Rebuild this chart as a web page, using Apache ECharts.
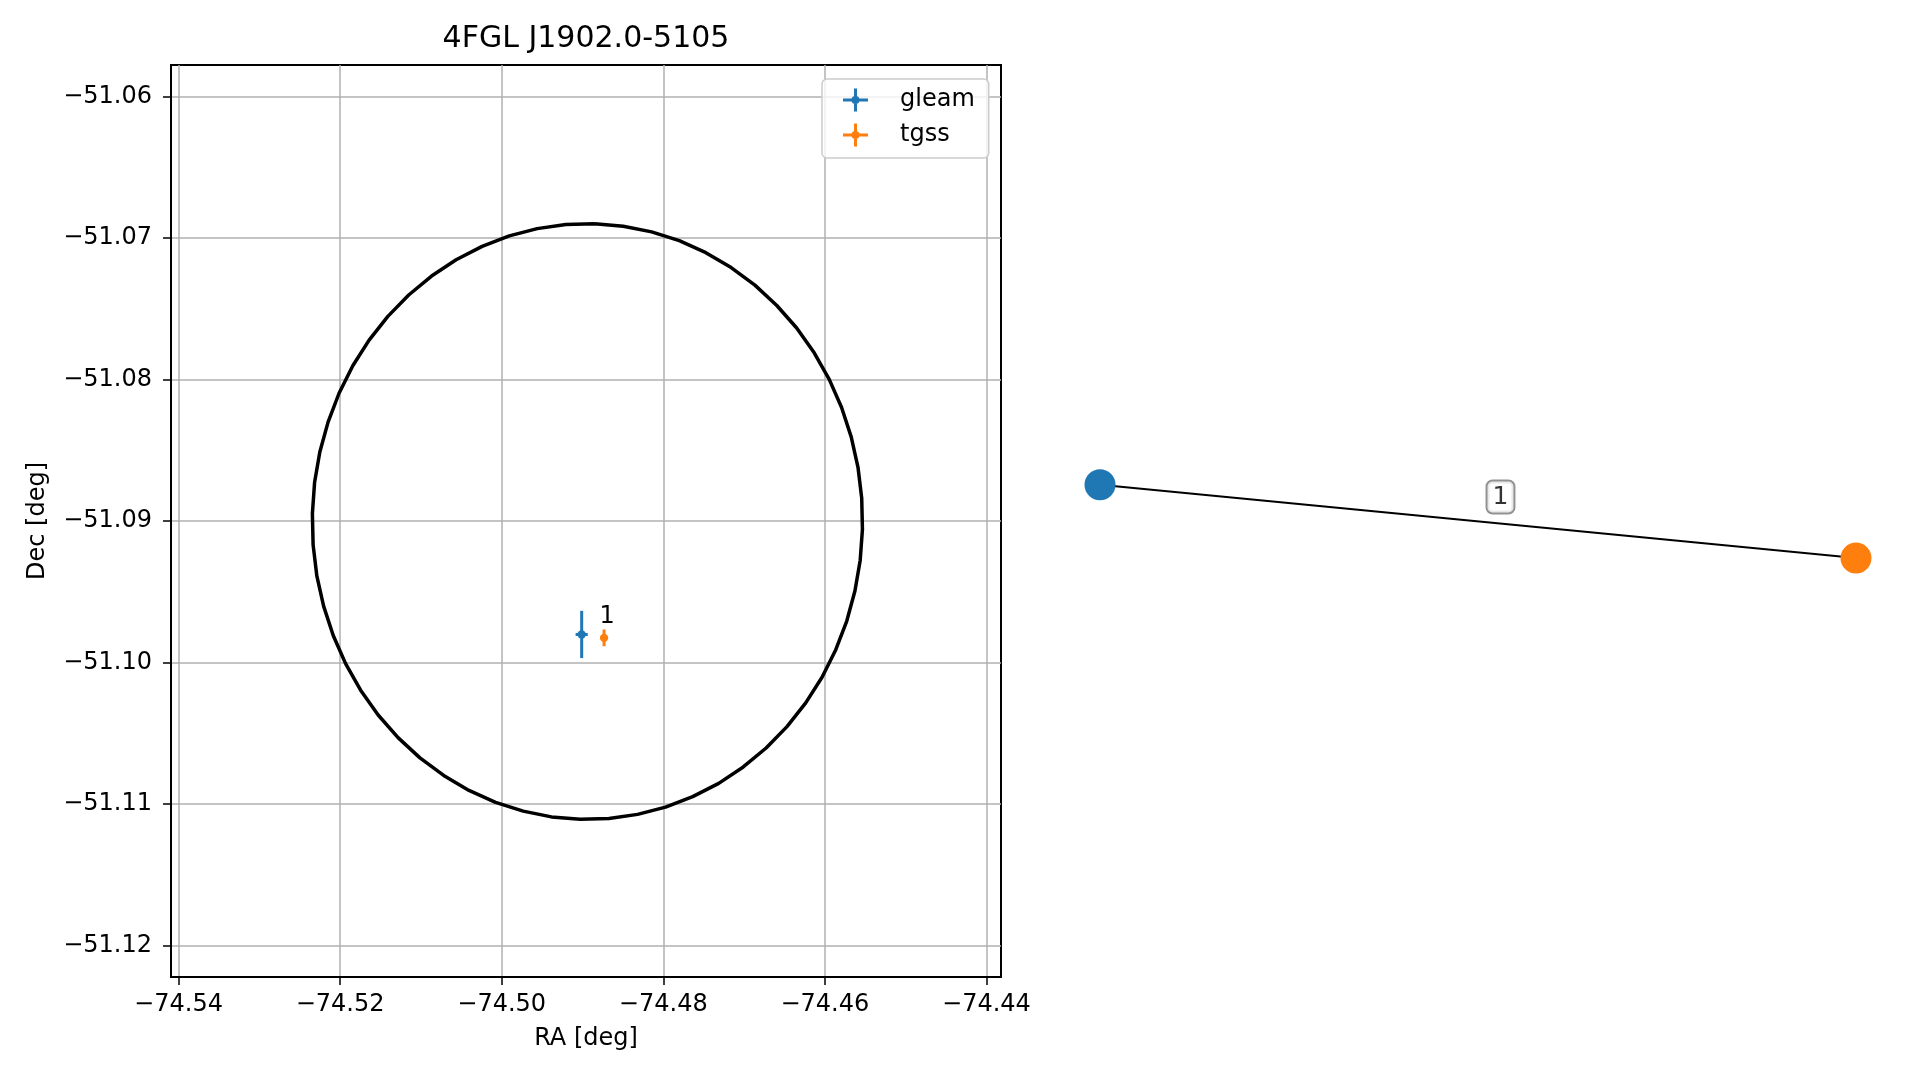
<!DOCTYPE html>
<html>
<head>
<meta charset="utf-8">
<script src="https://cdn.jsdelivr.net/npm/echarts@6/dist/echarts.min.js"></script>
<style>html,body{margin:0;padding:0;background:#fff}#c{width:1919px;height:1080px}</style>
</head>
<body>
<div id="c"></div>
<script>
// ---- data ----
const titleText = '4FGL J1902.0-5105';
const raTicks = [-74.54, -74.52, -74.50, -74.48, -74.46, -74.44];
const decTicks = [-51.12, -51.11, -51.10, -51.09, -51.08, -51.07, -51.06];
const raRange = [-74.54093, -74.43820];
const decRange = [-51.12222, -51.05779];

const sourceNames = ['gleam', 'tgss'];
const sourceColors = ['#1f77b4', '#ff7f0e'];
const sourceRA = [-74.4901, -74.48733];
const sourceDec = [-51.09802, -51.09826];
const sourceRAErr = [0.00075, 0.0003];
const sourceDecErr = [0.00167, 0.00059];
const sourceLabel = ['', '1'];

// 4FGL error circle vertices (RA, Dec)
const circleRA = [
  -74.48850, -74.48495, -74.48144, -74.47802, -74.47473, -74.47160, -74.46866, -74.46595,
  -74.46349, -74.46132, -74.45946, -74.45793, -74.45674, -74.45590, -74.45544,
  -74.45535, -74.45563, -74.45628, -74.45729, -74.45865, -74.46035, -74.46237, -74.46469,
  -74.46727, -74.47010, -74.47314, -74.47636, -74.47972, -74.48318, -74.48672,
  -74.49028, -74.49384, -74.49734, -74.50076, -74.50405, -74.50718, -74.51012, -74.51283,
  -74.51529, -74.51746, -74.51932, -74.52085, -74.52204, -74.52288, -74.52334,
  -74.52343, -74.52316, -74.52251, -74.52149, -74.52013, -74.51843, -74.51641, -74.51409,
  -74.51151, -74.50868, -74.50564, -74.50242, -74.49906, -74.49560, -74.49206
];
const circleDec = [
  -51.06900, -51.06918, -51.06958, -51.07020, -51.07105, -51.07210, -51.07334, -51.07478,
  -51.07637, -51.07812, -51.08000, -51.08199, -51.08406, -51.08621, -51.08839,
  -51.09059, -51.09279, -51.09495, -51.09707, -51.09910, -51.10104, -51.10285, -51.10453,
  -51.10604, -51.10738, -51.10854, -51.10948, -51.11022, -51.11073, -51.11102,
  -51.11108, -51.11091, -51.11050, -51.10988, -51.10904, -51.10798, -51.10674, -51.10531,
  -51.10371, -51.10196, -51.10008, -51.09809, -51.09602, -51.09388, -51.09169,
  -51.08949, -51.08729, -51.08513, -51.08302, -51.08098, -51.07904, -51.07723, -51.07555,
  -51.07404, -51.07270, -51.07155, -51.07060, -51.06986, -51.06935, -51.06906
];

// match graph (right panel)
const nodeNames = ['gleam', 'tgss'];
const nodeX = [-1, 1];
const nodeY = [0.0796, -0.0814];
const edgeLabels = ['1'];
const edgeLabelX = [0.0595];
const edgeLabelY = [0.0526];

// ---- chart ----
const FONT = 'DejaVu Sans';
const fmtMinus = v => (v < 0 ? '\u2212' : '') + Math.abs(v).toFixed(2);
const crossIcon = 'path://M0,10H11V0H14V10H25V13H14V23H11V13H0Z M12.5,7.5A4,4 0 1 1 12.49,7.5Z';

const circleData = circleRA.map((r, i) => [r, circleDec[i]]);
circleData.push([circleRA[0], circleDec[0]]);

const sourceSeries = sourceNames.map((name, i) => ({
  name: name,
  type: 'custom',
  xAxisIndex: 0, yAxisIndex: 0,
  itemStyle: { color: sourceColors[i], opacity: 1 },
  color: sourceColors[i],
  z: 5,
  data: [[sourceRA[i], sourceDec[i], sourceRAErr[i], sourceDecErr[i]]],
  encode: { x: 0, y: 1 },
  renderItem: function (params, api) {
    const x = api.value(0), y = api.value(1), ex = api.value(2), ey = api.value(3);
    const c = api.coord([x, y]);
    const l = api.coord([x - ex, y]), r = api.coord([x + ex, y]);
    const t = api.coord([x, y + ey]), b = api.coord([x, y - ey]);
    const col = sourceColors[i];
    const children = [
      { type: 'line', shape: { x1: l[0], y1: l[1], x2: r[0], y2: r[1] }, style: { stroke: col, lineWidth: 3 } },
      { type: 'line', shape: { x1: t[0], y1: t[1], x2: b[0], y2: b[1] }, style: { stroke: col, lineWidth: 3 } },
      { type: 'circle', shape: { cx: c[0], cy: c[1], r: 4.2 }, style: { fill: col } }
    ];
    if (sourceLabel[i]) {
      children.push({ type: 'text', style: { text: sourceLabel[i], x: c[0] + 3, y: c[1] - 21,
        align: 'center', verticalAlign: 'middle', font: '24px "' + FONT + '"', fill: '#000' } });
    }
    return { type: 'group', children: children };
  }
}));

const option = {
  animation: false,
  backgroundColor: '#ffffff',
  title: {
    text: titleText, left: 586, top: 24, textAlign: 'center', padding: 0,
    textStyle: { fontSize: 30, fontWeight: 'normal', color: '#000', fontFamily: FONT }
  },
  legend: {
    data: sourceNames.map(n => ({ name: n, icon: crossIcon })),
    orient: 'vertical', left: 822, top: 79,
    padding: [9, 14, 11, 21], itemGap: 11, itemWidth: 25, itemHeight: 23,
    selectedMode: false,
    textStyle: { fontSize: 24, color: '#000', fontFamily: FONT, padding: [0, 0, 0, 27] },
    backgroundColor: 'rgba(255,255,255,0.8)', borderColor: '#cccccc', borderWidth: 1.5, borderRadius: 5
  },
  grid: [
    { left: 171, top: 65, width: 830, height: 912, show: true, borderColor: '#000', borderWidth: 2, backgroundColor: 'transparent' },
    { left: 1100, top: 65, width: 756, height: 912, show: false }
  ],
  xAxis: [
    {
      gridIndex: 0, type: 'value', min: raRange[0], max: raRange[1],
      axisLine: { show: true, lineStyle: { color: '#000', width: 2 } },
      axisTick: { show: true, inside: false, length: 8, customValues: raTicks, lineStyle: { color: '#000', width: 1.5 } },
      axisLabel: { customValues: raTicks, formatter: fmtMinus, margin: 16, fontSize: 24, color: '#000', fontFamily: FONT },
      splitLine: { show: true, lineStyle: { color: '#b0b0b0', width: 1.5 } },
      name: 'RA [deg]', nameLocation: 'middle', nameGap: 50,
      nameTextStyle: { fontSize: 24, color: '#000', fontFamily: FONT }
    },
    { gridIndex: 1, type: 'value', min: -1, max: 1, show: false }
  ],
  yAxis: [
    {
      gridIndex: 0, type: 'value', min: decRange[0], max: decRange[1],
      axisLine: { show: true, lineStyle: { color: '#000', width: 2 } },
      axisTick: { show: true, inside: false, length: 8, customValues: decTicks, lineStyle: { color: '#000', width: 1.5 } },
      axisLabel: { customValues: decTicks, formatter: fmtMinus, margin: 19, fontSize: 24, color: '#000', fontFamily: FONT },
      splitLine: { show: true, lineStyle: { color: '#b0b0b0', width: 1.5 } },
      name: 'Dec [deg]', nameLocation: 'middle', nameGap: 121, nameRotate: 90,
      nameTextStyle: { fontSize: 24, color: '#000', fontFamily: FONT }
    },
    { gridIndex: 1, type: 'value', min: -1, max: 1, show: false }
  ],
  series: [
    {
      name: 'circle', type: 'line', xAxisIndex: 0, yAxisIndex: 0,
      data: circleData, showSymbol: false, symbol: 'none', smooth: false,
      lineStyle: { color: '#000', width: 3.5 }, itemStyle: { color: '#000' }, z: 3, silent: true
    },
    ...sourceSeries,
    {
      name: 'edge', type: 'line', xAxisIndex: 1, yAxisIndex: 1,
      data: nodeX.map((x, i) => [x, nodeY[i]]), showSymbol: false, symbol: 'none',
      lineStyle: { color: '#000', width: 2 }, itemStyle: { color: '#000' }, z: 2, silent: true, clip: false
    },
    {
      name: 'nodes', type: 'scatter', xAxisIndex: 1, yAxisIndex: 1, symbolSize: 31, z: 4, clip: false,
      itemStyle: { opacity: 1 },
      data: nodeX.map((x, i) => ({ value: [x, nodeY[i]], name: nodeNames[i], itemStyle: { color: sourceColors[i], opacity: 1 } }))
    },
    {
      name: 'edgeLabels', type: 'scatter', xAxisIndex: 1, yAxisIndex: 1, symbolSize: 0, z: 6, clip: false,
      data: edgeLabels.map((t, i) => ({ value: [edgeLabelX[i], edgeLabelY[i]], name: t })),
      label: {
        show: true, position: 'inside', formatter: p => p.name,
        fontSize: 25, color: '#000', fontFamily: FONT,
        backgroundColor: '#ffffff', borderColor: '#777777', borderWidth: 2, borderRadius: 5,
        padding: [3, 5, 3, 5]
      }
    }
  ]
};

const chart = echarts.init(document.getElementById('c'), null, { renderer: 'canvas', width: 1919, height: 1080 });
chart.setOption(option);
</script>
</body>
</html>
